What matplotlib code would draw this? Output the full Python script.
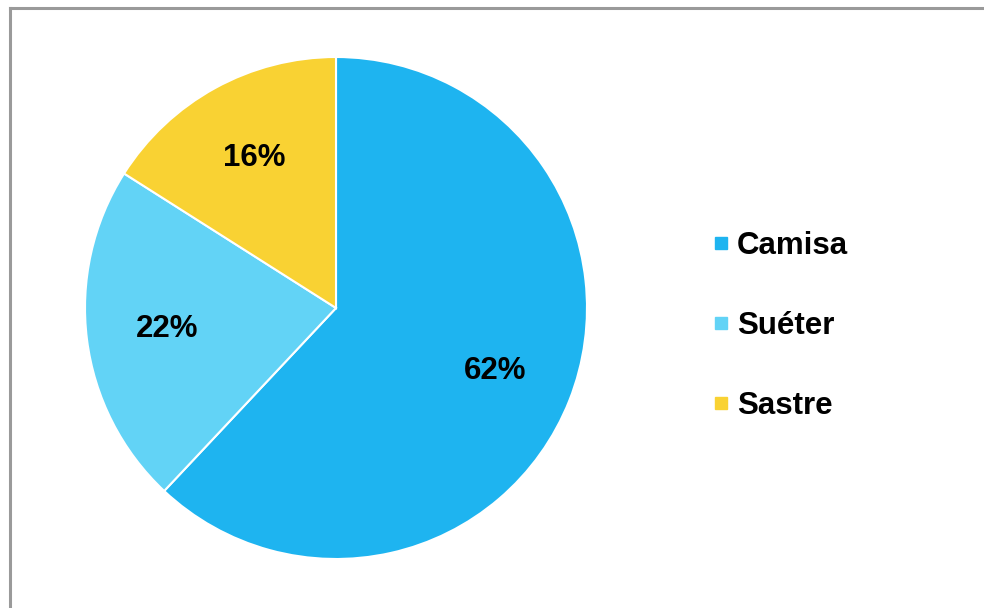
import matplotlib.pyplot as plt
from matplotlib.lines import Line2D

etiquetas = ['Camisa', 'Suéter', 'Sastre']
valores = [62, 22, 16]
colores = ['#1EB4F0', '#62D3F6', '#F9D233']

plt.rcParams['font.family'] = ['Liberation Sans', 'DejaVu Sans']

fig = plt.figure(figsize=(9.84, 6.08), dpi=100)
fig.patch.set_facecolor('white')

# marco gris de arriba e izquierda
fig.add_artist(Line2D([10/984, 10/984], [0, 1 - 8/608], color='#9a9a9a', lw=2.2))
fig.add_artist(Line2D([10/984, 1], [1 - 8/608, 1 - 8/608], color='#9a9a9a', lw=2.2))

cx, cy, r = 336, 308, 251
ax = fig.add_axes([(cx - r)/984, (608 - cy - r)/608, 2*r/984, 2*r/608])
wedges, _, autotexts = ax.pie(valores, colors=colores, startangle=90, counterclock=False,
                              autopct='%1.0f%%', pctdistance=0.68, radius=1,
                              wedgeprops=dict(edgecolor='white', linewidth=1.5),
                              textprops=dict(fontsize=22.5, fontweight='bold', color='black'))
ax.set_xlim(-1, 1)
ax.set_ylim(-1, 1)
ax.set_aspect('equal')

handles = [Line2D([], [], marker='s', linestyle='', markersize=8, color=c) for c in colores]
fig.legend(handles, etiquetas, loc='center left', bbox_to_anchor=(696/984, 1 - 326/608),
           frameon=False, prop=dict(size=22.5, weight='bold'), labelspacing=1.6,
           handlelength=0.6, handletextpad=0.2, borderpad=0)

fig.savefig('out.png', dpi=100)
